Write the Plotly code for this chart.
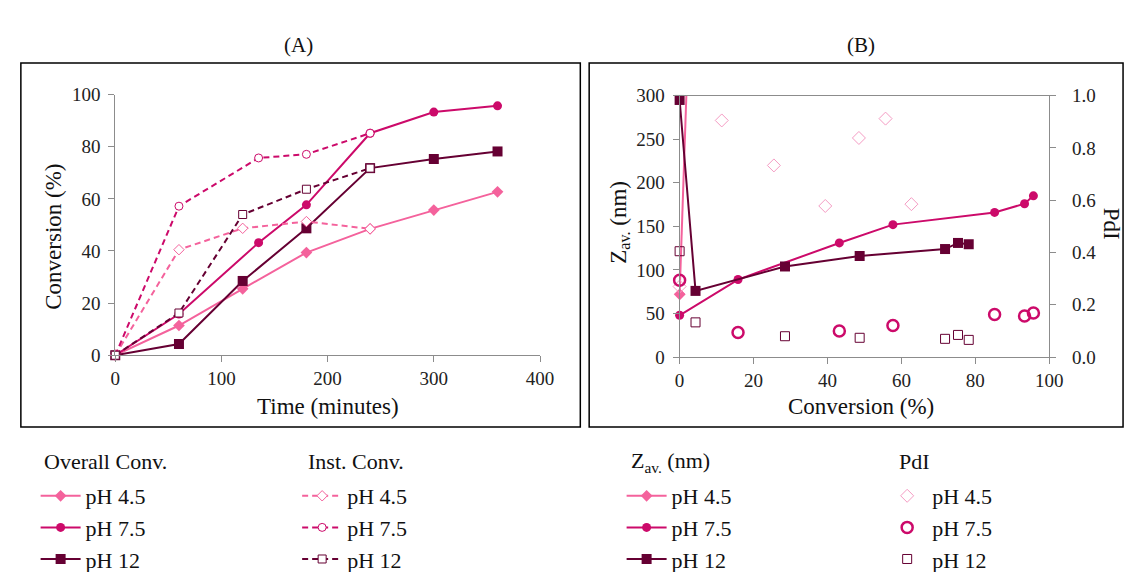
import plotly.graph_objects as go

# ---------------- data ----------------
time_overall = [0, 60, 120, 180, 240, 300, 360]
time_ph75 = [0, 60, 135, 180, 240, 300, 360]
conv_ph45 = [0, 11.4, 25.5, 39.4, 48.5, 55.7, 62.7]
conv_ph75 = [0, 15.8, 43.2, 57.7, 85.2, 93.3, 95.7]
conv_ph12 = [0, 4.3, 28.5, 48.7, 71.8, 75.3, 78.2]

time_inst45 = [0, 60, 120, 180, 240]
time_inst75 = [0, 60, 135, 180, 240]
time_inst12 = [0, 60, 120, 180, 240]
inst_ph45 = [0, 40.5, 48.7, 51.3, 48.5]
inst_ph75 = [0, 57.2, 75.7, 77.1, 85.2]
inst_ph12 = [0, 16.2, 54.0, 63.7, 71.8]

zconv_ph45 = [0, 11.4]
zav_ph45 = [72, 1500]
zav_ph75 = [48, 89, 131, 152, 166, 176, 185]
zav_ph12 = [295, 76, 104, 116, 124, 131, 129.5]

pdi_ph45 = [0.27, 0.905, 0.733, 0.578, 0.838, 0.912, 0.585]
pdi_ph75 = [0.294, 0.094, 0.10, 0.121, 0.163, 0.157, 0.169]
pdi_ph12 = [0.405, 0.133, 0.080, 0.074, 0.070, 0.085, 0.066]

labels = ["pH 4.5", "pH 7.5", "pH 12"]
group_titles = ["Overall Conv.", "Inst. Conv.", "Z<sub>av.</sub> (nm)", "PdI"]

# ---------------- style ----------------
W, H = 1132, 572
FONT = "Liberation Serif, Times New Roman, Times, serif"
C45, C75, C12 = "#F4629C", "#CC0A6A", "#660033"
C45_light = "#F59BC3"
AX = "#8C8C8C"


def px(xp):
    return xp / W


def py(yp):
    return 1 - yp / H


fig = go.Figure()

# ---- Panel A: overall conversion ----
for t, c, col, sym, sz, lab in [
    (time_overall, conv_ph45, C45, "diamond", 9, labels[0]),
    (time_ph75, conv_ph75, C75, "circle", 9, labels[1]),
    (time_overall, conv_ph12, C12, "square", 10, labels[2]),
]:
    fig.add_trace(go.Scatter(
        x=t, y=c, mode="lines+markers", name=lab,
        line=dict(color=col, width=2),
        marker=dict(symbol=sym, size=sz, color=col),
        cliponaxis=False, xaxis="x", yaxis="y", legend="legend"))

# ---- Panel A: instantaneous conversion ----
for t, c, col, sym, lab in [
    (time_inst45, inst_ph45, C45, "diamond", labels[0]),
    (time_inst75, inst_ph75, C75, "circle", labels[1]),
    (time_inst12, inst_ph12, C12, "square", labels[2]),
]:
    fig.add_trace(go.Scatter(
        x=t, y=c, mode="lines+markers", name=lab,
        line=dict(color=col, width=2, dash="6px,4px"),
        marker=dict(symbol=sym, size=8, color="white", line=dict(color=col, width=1)),
        cliponaxis=False, xaxis="x", yaxis="y", legend="legend2"))

# ---- Panel B: Z average ----
fig.add_trace(go.Scatter(
    x=zconv_ph45, y=zav_ph45, mode="lines+markers", name=labels[0],
    line=dict(color=C45, width=2), marker=dict(symbol="diamond", size=9, color=C45),
    xaxis="x2", yaxis="y2", legend="legend3"))
fig.add_trace(go.Scatter(
    x=zconv_ph45[:1], y=zav_ph45[:1], mode="markers", showlegend=False,
    marker=dict(symbol="diamond", size=9, color=C45), cliponaxis=False,
    xaxis="x2", yaxis="y2"))
fig.add_trace(go.Scatter(
    x=conv_ph75, y=zav_ph75, mode="lines+markers", name=labels[1],
    line=dict(color=C75, width=2), marker=dict(symbol="circle", size=9, color=C75),
    cliponaxis=False, xaxis="x2", yaxis="y2", legend="legend3"))
fig.add_trace(go.Scatter(
    x=conv_ph12, y=zav_ph12, mode="lines+markers", name=labels[2],
    line=dict(color=C12, width=2), marker=dict(symbol="square", size=10, color=C12),
    cliponaxis=False, xaxis="x2", yaxis="y2", legend="legend3"))

# ---- Panel B: PdI ----
fig.add_trace(go.Scatter(
    x=conv_ph45, y=pdi_ph45, mode="markers", name=labels[0],
    marker=dict(symbol="diamond-open", size=10, color=C45_light, line=dict(width=1)),
    cliponaxis=False, xaxis="x2", yaxis="y3", legend="legend4"))
fig.add_trace(go.Scatter(
    x=conv_ph75, y=pdi_ph75, mode="markers", name=labels[1],
    marker=dict(symbol="circle-open", size=11, color=C75, line=dict(width=2.5)),
    cliponaxis=False, xaxis="x2", yaxis="y3", legend="legend4"))
fig.add_trace(go.Scatter(
    x=conv_ph12, y=pdi_ph12, mode="markers", name=labels[2],
    marker=dict(symbol="square-open", size=9, color=C12, line=dict(width=1)),
    cliponaxis=False, xaxis="x2", yaxis="y3", legend="legend4"))

tickfont = dict(family=FONT, size=19, color="#222")
common_ax = dict(showline=True, linecolor=AX, linewidth=1, ticks="outside",
                 tickcolor=AX, ticklen=6, showgrid=False, zeroline=False,
                 tickfont=tickfont, fixedrange=True)


def leg(x):
    return dict(x=px(x), y=py(477), xanchor="left", yanchor="top",
                font=dict(family=FONT, size=22, color="#111"),
                bgcolor="rgba(0,0,0,0)", borderwidth=0, tracegroupgap=0,
                itemwidth=40)


fig.update_layout(
    width=W, height=H, margin=dict(l=0, r=0, t=0, b=0),
    paper_bgcolor="white", plot_bgcolor="white",
    font=dict(family=FONT, color="#111"),
    xaxis=dict(domain=[px(104), px(536)], range=[0, 400], dtick=100,
               anchor="y", **common_ax),
    yaxis=dict(domain=[py(352), py(80)], range=[0, 100], dtick=20,
               anchor="x", ticklabelstandoff=4, **common_ax),
    xaxis2=dict(domain=[px(678), px(1054)], range=[0, 100], dtick=20,
                anchor="y2", mirror=True, **common_ax),
    yaxis2=dict(domain=[py(354), py(81)], range=[0, 300], dtick=50,
                anchor="x2", ticklabelstandoff=4, **common_ax),
    yaxis3=dict(range=[0, 1], dtick=0.2, tickformat=".1f", overlaying="y2",
                side="right", anchor="x2", ticklabelstandoff=12, **common_ax),
    legend=leg(23),
    legend2=leg(289),
    legend3=leg(619),
    legend4=leg(884),
    showlegend=True,
)

# panel frames
for x0, x1 in [(8, 577), (586, 1129)]:
    fig.add_shape(type="rect", xref="paper", yref="paper",
                  x0=px(x0), x1=px(x1), y0=py(427), y1=py(47),
                  line=dict(color="black", width=1.5))

ann_font = dict(family=FONT, size=21, color="#111")
title_font = dict(family=FONT, size=23, color="#111")
annotations = [
    ("(A)", 290, 28, 0, ann_font),
    ("(B)", 862, 28, 0, ann_font),
    ("Time (minutes)", 320, 405, 0, title_font),
    ("Conversion (%)", 41, 228, -90, title_font),
    ("Conversion (%)", 862, 406, 0, title_font),
    ("Z<sub>av.</sub> (nm)", 617, 213, -90, title_font),
    ("PdI", 1117, 215, 90, title_font),
]
for text, x, y, ang, f in annotations:
    fig.add_annotation(text=text, x=px(x), y=py(y), xref="paper", yref="paper",
                       showarrow=False, textangle=ang, font=f,
                       xanchor="center", yanchor="middle")

# legend group headings
for text, x in zip(group_titles, [30, 298, 627, 899]):
    fig.add_annotation(text=text, x=px(x), y=py(463), xref="paper", yref="paper",
                       showarrow=False, font=dict(family=FONT, size=22, color="#111"),
                       xanchor="left", yanchor="middle")

fig.write_html("out.html")
